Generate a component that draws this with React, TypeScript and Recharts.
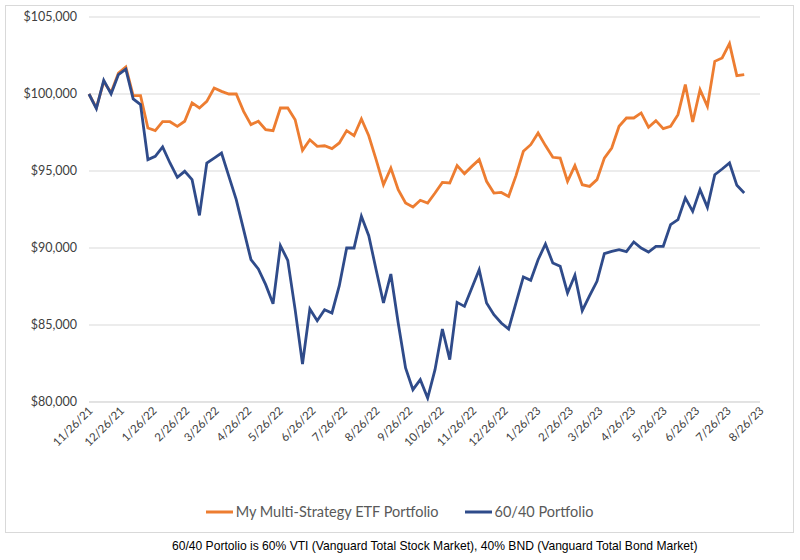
import React from 'react';
import { LineChart, Line, XAxis, YAxis, CartesianGrid, Legend } from 'recharts';

// monthly axis labels (first one is also the first weekly data point)
const tickLabels = [
  '11/26/21', '12/26/21', '1/26/22', '2/26/22', '3/26/22', '4/26/22', '5/26/22', '6/26/22',
  '7/26/22', '8/26/22', '9/26/22', '10/26/22', '11/26/22', '12/26/22', '1/26/23', '2/26/23',
  '3/26/23', '4/26/23', '5/26/23', '6/26/23', '7/26/23', '8/26/23',
];

// weekly portfolio values
const multiStrategy = [
  100000, 99100, 100800, 100100, 101360, 101750, 99890, 99890, 97790, 97620, 98200, 98200,
  97900, 98230, 99420, 99090, 99520, 100390, 100170, 100000, 100000, 98870, 98010,
  98230, 97680, 97620, 99090, 99090, 98330, 96340, 97030, 96600, 96640, 96450, 96820,
  97620, 97290, 98380, 97290, 95740, 94110, 95190, 93790, 92920, 92660, 93100,
  92920, 93570, 94260, 94220, 95350, 94830, 95300, 95740, 94330, 93570, 93610, 93350,
  94700, 96280, 96710, 97470, 96650, 95890, 95840, 94330, 95350, 94110,
  94000, 94440, 95840, 96490, 97900, 98440, 98440, 98770, 97840, 98270, 97750, 97900,
  98660, 100610, 98180, 100280, 99200, 102120, 102340, 103270, 101190, 101260,
];

const sixtyForty = [
  100000, 99050, 100890, 100000, 101260, 101620, 99680, 99310, 95740, 95950, 96560, 95520,
  94590, 94980, 94440, 92120, 95520, 95840, 96170, 94650, 93140, 91190, 89240,
  88640, 87620, 86380, 90150, 89200, 86000, 82470, 86040, 85280, 85990, 85780, 87550,
  90000, 90000, 92060, 90800, 88590, 86430, 88310, 85130, 82210, 80800, 81450,
  80260, 82100, 84740, 82750, 86470, 86210, 87400, 88590, 86430, 85670, 85130, 84740,
  86430, 88120, 87900, 89240, 90260, 89030, 88810, 87080, 88230, 85930,
  86900, 87840, 89630, 89780, 89890, 89760, 90390, 90000, 89740, 90110, 90110, 91520,
  91840, 93250, 92380, 93790, 92640, 94760, 95130, 95520, 94070, 93570,
];

const seriesOrder = ['multi', 'sixty'];
const yTicks = [80000, 85000, 90000, 95000, 100000, 105000];

const DAY = 86400000;
const parseDate = (s: string) => {
  const [m, d, y] = s.split('/').map(Number);
  return Date.UTC(2000 + y, m - 1, d);
};
const start = parseDate(tickLabels[0]);
const tickDays = tickLabels.map((s) => Math.round((parseDate(s) - start) / DAY));

const rows = multiStrategy.map((v, i) => ({ day: i * 7, multi: v, sixty: sixtyForty[i] }));

const axisFont = 'Lato, "Open Sans", sans-serif';

function DateTick({ x, y, payload }: any) {
  const label = tickLabels[tickDays.indexOf(payload.value)];
  return (
    <text
      x={x + 3}
      y={y}
      dy={2}
      transform={`rotate(-45 ${x + 3} ${y})`}
      textAnchor="end"
      fontSize={11.5}
      fontFamily={axisFont}
      fill="#404040"
    >
      {label}
    </text>
  );
}

function LegendBox({ payload }: any) {
  const items = [...(payload || [])].sort(
    (a: any, b: any) => seriesOrder.indexOf(a.dataKey) - seriesOrder.indexOf(b.dataKey)
  );
  return (
    <div style={{ display: 'flex', justifyContent: 'center', alignItems: 'center', gap: 26 }}>
      {items.map((p: any) => (
        <span key={p.value} style={{ display: 'flex', alignItems: 'center', fontFamily: axisFont, fontSize: 14.5, color: '#595959' }}>
          <svg width={27} height={4} style={{ marginRight: 3 }}>
            <line x1={0} y1={2} x2={27} y2={2} stroke={p.color} strokeWidth={3} />
          </svg>
          {p.value}
        </span>
      ))}
    </div>
  );
}

export default function App() {
  return (
    <div style={{ position: 'absolute', left: 0, top: 0, width: 800, height: 560, background: '#fff' }}>
      <div
        style={{
          position: 'absolute', left: 5, top: 5, width: 789, height: 528,
          border: '1px solid #d9d9d9', boxSizing: 'border-box',
        }}
      >
        <LineChart
          width={787}
          height={526}
          data={rows}
          margin={{ top: 11, right: 33, left: 13, bottom: 70 }}
        >
          <CartesianGrid vertical={false} stroke="#d9d9d9" />
          <XAxis
            dataKey="day"
            type="number"
            domain={[0, tickDays[tickDays.length - 1]]}
            ticks={tickDays}
            interval={0}
            height={60}
            tickLine={false}
            axisLine={{ stroke: '#d9d9d9' }}
            tick={<DateTick />}
          />
          <YAxis
            width={70}
            domain={[80000, 105000]}
            ticks={yTicks}
            tickLine={false}
            axisLine={false}
            tickMargin={6}
            tickFormatter={(v: number) => '$' + v.toLocaleString('en-US')}
            tick={{ fontSize: 12.5, fill: '#404040', fontFamily: axisFont }}
          />
          <Legend
            layout="horizontal"
            verticalAlign="middle"
            align="center"
            wrapperStyle={{ top: 497, left: 0, width: 787 }}
            content={<LegendBox />}
          />
          <Line
            dataKey="multi"
            name="My Multi-Strategy ETF Portfolio"
            stroke="#ED7D31"
            strokeWidth={2.8}
            dot={false}
            isAnimationActive={false}
          />
          <Line
            dataKey="sixty"
            name="60/40 Portfolio"
            stroke="#2F4B8A"
            strokeWidth={2.8}
            dot={false}
            isAnimationActive={false}
          />
        </LineChart>
      </div>
      <div
        style={{
          position: 'absolute', left: 172, top: 539, fontFamily: '"Liberation Sans", Arial, sans-serif',
          fontSize: 12.1, color: '#000', whiteSpace: 'nowrap',
        }}
      >
        60/40 Portolio is 60% VTI (Vanguard Total Stock Market), 40% BND (Vanguard Total Bond Market)
      </div>
    </div>
  );
}
